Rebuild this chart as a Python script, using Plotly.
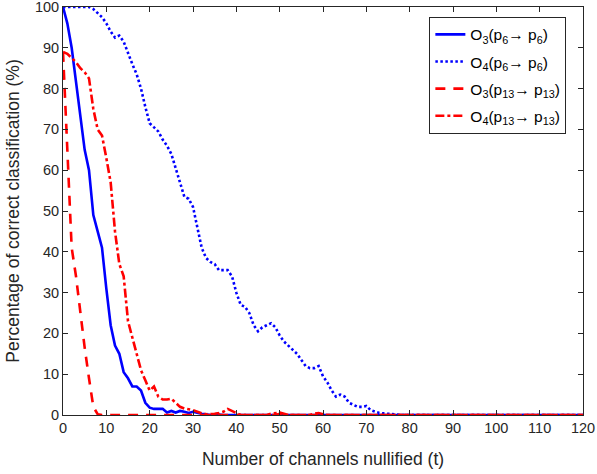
import plotly.graph_objects as go

t = list(range(0, 121))

o3_p6 = [100, 96, 90, 82, 74, 65, 60, 49, 45, 41, 31, 22, 17, 15, 10.5, 9, 7, 7, 6, 3,
         1.8, 1.5, 1.5, 1.5, 0.6, 1.0, 0.6, 1.0, 0.8, 0.5, 0.8, 0.5, 0.3, 0.2, 0, 0, 0.1, 0, 0, 0,
         0, 0, 0, 0, 0, 0, 0, 0, 0, 0, 0, 0, 0, 0, 0, 0, 0, 0, 0, 0,
         0, 0, 0, 0, 0, 0, 0, 0, 0, 0, 0, 0, 0, 0, 0, 0, 0, 0, 0, 0,
         0, 0, 0, 0, 0, 0, 0, 0, 0, 0, 0, 0, 0, 0, 0, 0, 0, 0, 0, 0,
         0, 0, 0, 0, 0, 0, 0, 0, 0, 0, 0, 0, 0, 0, 0, 0, 0, 0, 0, 0, 0]

o4_p6 = [100, 100, 100, 100, 100, 100, 100, 99.5, 98.5, 97.5, 96, 94, 92.5, 93, 91.5, 88.5, 86, 83.5, 80, 75.5,
         71.5, 70.5, 69.5, 67.5, 66, 64, 60.5, 57, 53.5, 53, 51, 46, 41, 38.5, 37.5, 37, 35.5, 35.5, 35.5, 34,
         30, 27, 26.5, 25, 22, 20.5, 21.5, 22, 22.5, 21.5, 19.5, 18, 17, 16, 15, 13.5, 12, 11.5, 11.5, 12,
         9.5, 8, 6, 4.5, 5, 4.5, 3, 2.5, 2, 2, 2.2, 1.2, 0.8, 0.5, 0.4, 0.3, 0.2, 0, 0, 0,
         0, 0, 0, 0, 0, 0, 0, 0, 0, 0, 0, 0, 0, 0, 0, 0, 0, 0, 0, 0,
         0, 0, 0, 0, 0, 0, 0, 0, 0, 0, 0, 0, 0, 0, 0, 0, 0, 0, 0, 0, 0]

o3_p13 = [89, 66, 41, 34, 25, 16.5, 9, 2, 0.2, 0, 0.3, 0, 0, 0, 0, 0, 0, 0, 0, 0,
          0, 0, 0, 0, 0, 0, 0, 0, 0, 0, 0, 0, 0, 0, 0, 0, 0, 0, 0, 0,
          0, 0, 0, 0, 0, 0, 0, 0, 0, 0, 0.3, 0, 0, 0, 0, 0, 0, 0, 0, 0,
          0.2, 0, 0, 0, 0, 0, 0, 0, 0, 0, 0, 0, 0, 0, 0, 0, 0, 0, 0, 0,
          0, 0, 0, 0, 0, 0, 0, 0, 0, 0, 0, 0, 0, 0, 0, 0, 0, 0, 0, 0,
          0, 0, 0, 0, 0, 0, 0, 0, 0, 0, 0, 0, 0, 0, 0, 0, 0, 0, 0, 0, 0]

o4_p13 = [89, 88.5, 87.5, 86.5, 85, 84, 82.5, 75, 70, 68.5, 63, 57, 45, 37, 34, 23, 19, 15, 11, 8.5,
          6, 7, 4.5, 3.8, 3.8, 4, 3, 2, 1.6, 1.4, 1.2, 0.8, 0.4, 0.2, 0.2, 0.3, 0.5, 0.8, 1.5, 1.0,
          0.3, 0, 0, 0, 0, 0, 0, 0, 0.3, 0.5, 0.6, 0.3, 0, 0, 0, 0, 0, 0, 0.3, 0.5,
          0.2, 0, 0, 0, 0, 0, 0, 0, 0, 0, 0, 0, 0, 0, 0, 0, 0, 0, 0, 0,
          0, 0, 0, 0, 0, 0, 0, 0, 0, 0, 0, 0, 0, 0, 0, 0, 0, 0, 0, 0,
          0, 0, 0, 0, 0, 0, 0, 0, 0, 0, 0, 0, 0, 0, 0, 0, 0, 0, 0, 0, 0]

x_ticks = [0, 10, 20, 30, 40, 50, 60, 70, 80, 90, 100, 110, 120]
y_ticks = [0, 10, 20, 30, 40, 50, 60, 70, 80, 90, 100]

names = [
    "O<sub>3</sub>(p<sub>6</sub>\u2192 p<sub>6</sub>)",
    "O<sub>4</sub>(p<sub>6</sub>\u2192 p<sub>6</sub>)",
    "O<sub>3</sub>(p<sub>13</sub>\u2192 p<sub>13</sub>)",
    "O<sub>4</sub>(p<sub>13</sub>\u2192 p<sub>13</sub>)",
]

BLUE = "#0000FF"
RED = "#FF0000"
AX = "#262626"
FONT = "Liberation Sans, Arial, sans-serif"

fig = go.Figure()
fig.add_trace(go.Scatter(x=t, y=o3_p6, mode="lines", name=names[0], legendgroup="a",
                         line=dict(color=BLUE, width=2.6, dash="solid")))
fig.add_trace(go.Scatter(x=t, y=o4_p6, mode="lines", name=names[1], legendgroup="b",
                         line=dict(color=BLUE, width=2.6, dash="2.5px,2.5px")))
fig.add_trace(go.Scatter(x=t, y=o3_p13, mode="lines", name=names[2], legendgroup="c",
                         line=dict(color=RED, width=2.6, dash="10px,8px")))
fig.add_trace(go.Scatter(x=t, y=o4_p13, mode="lines", name=names[3], legendgroup="d",
                         line=dict(color=RED, width=2.6, dash="9px,3px,3px,3px")))

axis_common = dict(
    showgrid=False, zeroline=False, showline=True, linecolor=AX, linewidth=1,
    mirror="ticks", ticks="inside", ticklen=5, tickwidth=1, tickcolor=AX,
    tickfont=dict(family=FONT, size=14.5, color=AX), ticklabeloverflow="allow",
)

fig.update_layout(
    width=597, height=474,
    margin=dict(l=63, r=14, t=7, b=59, autoexpand=False),
    paper_bgcolor="white", plot_bgcolor="white",
    font=dict(family=FONT, color=AX),
    xaxis=dict(range=[0, 120], tickvals=x_ticks,
               title=dict(text="Number of channels nullified (t)", font=dict(size=17.5, color=AX), standoff=17),
               **axis_common),
    yaxis=dict(range=[0, 100], tickvals=y_ticks,
               title=dict(text="Percentage of correct classification (%)", font=dict(size=17.5, color=AX), standoff=10),
               **axis_common),
    legend=dict(x=0.968, y=0.976, xanchor="right", yanchor="top",
                bgcolor="white", bordercolor=AX, borderwidth=1,
                font=dict(family=FONT, size=15.5, color="black"), tracegroupgap=4,
                itemwidth=30),
    showlegend=True,
)

fig.write_html("out.html", config={"displayModeBar": False},
               post_script="document.body.style.margin='0px';document.body.style.padding='0px';")
